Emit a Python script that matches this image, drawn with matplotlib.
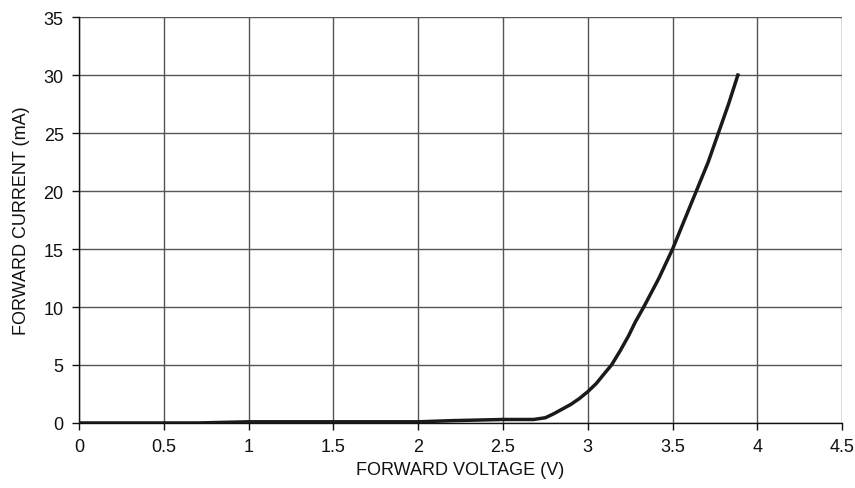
import matplotlib
matplotlib.use("Agg")
import matplotlib.pyplot as plt
from matplotlib import font_manager

# forward voltage (V) vs forward current (mA)
voltage = [0.0, 0.7, 1.0, 2.0, 2.2, 2.5, 2.68, 2.75, 2.8, 2.85, 2.9, 2.95,
           3.0, 3.05, 3.1, 3.14, 3.19, 3.24, 3.28, 3.33, 3.42, 3.5, 3.57,
           3.64, 3.71, 3.77, 3.83, 3.885]
current = [0.0, 0.0, 0.1, 0.1, 0.2, 0.3, 0.3, 0.45, 0.8, 1.2, 1.6, 2.1,
           2.7, 3.4, 4.3, 5.0, 6.2, 7.5, 8.7, 10.0, 12.5, 15.0, 17.5,
           20.0, 22.5, 25.0, 27.5, 30.0]

x_ticks = [0, 0.5, 1, 1.5, 2, 2.5, 3, 3.5, 4, 4.5]
x_labels = ["0", "0.5", "1", "1.5", "2", "2.5", "3", "3.5", "4", "4.5"]
y_ticks = [0, 5, 10, 15, 20, 25, 30, 35]

names = {f.name for f in font_manager.fontManager.ttflist}
family = "Liberation Sans Narrow" if "Liberation Sans Narrow" in names else "Liberation Sans"
plt.rcParams["font.family"] = [family, "DejaVu Sans"]

fig = plt.figure(figsize=(8.55, 4.89), dpi=100)
ax = fig.add_axes([0.0924, 0.133, 0.8926, 0.830])

ax.plot(voltage, current, color="#1a1a1a", linewidth=2.5, zorder=3,
        solid_joinstyle="round")

ax.set_xlim(0, 4.5)
ax.set_ylim(0, 35)
ax.set_xticks(x_ticks)
ax.set_xticklabels(x_labels)
ax.set_yticks(y_ticks)

ax.grid(True, color="#555555", linewidth=1.0)
ax.set_axisbelow(True)
for side in ["top", "right"]:
    ax.spines[side].set_visible(False)
for side in ["left", "bottom"]:
    ax.spines[side].set_color("#111111")
    ax.spines[side].set_linewidth(1.0)

ax.tick_params(axis="both", direction="out", length=5, width=1.0,
               colors="#111111", labelsize=13, pad=6)

ax.set_xlabel("FORWARD VOLTAGE (V)", fontsize=13, color="#111111", labelpad=4)
ax.set_ylabel("FORWARD CURRENT (mA)", fontsize=13, color="#111111", labelpad=10)

fig.savefig("out.png", dpi=100)
